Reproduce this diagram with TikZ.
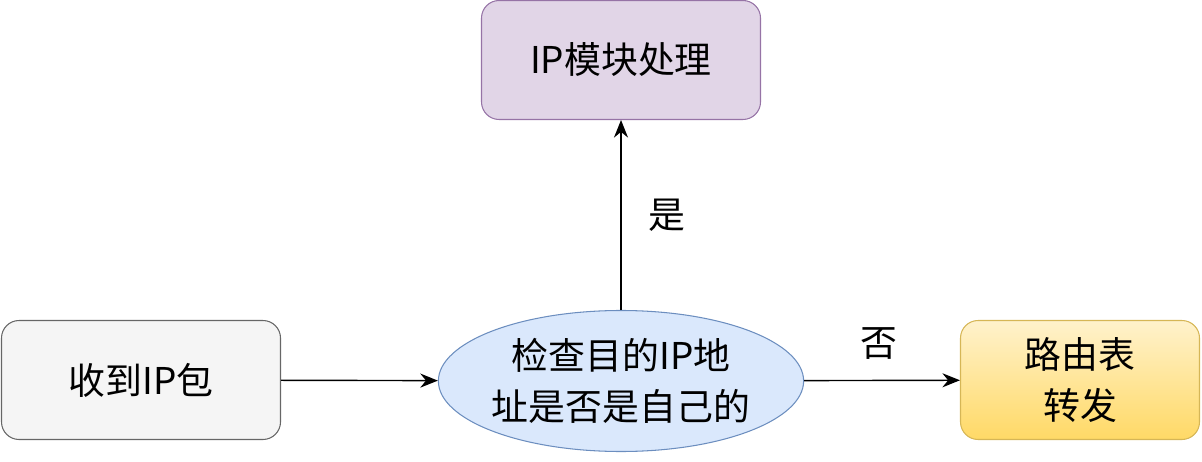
\documentclass[tikz,border=0pt]{standalone}
\usepackage{fontspec}
\setmainfont{Noto Sans CJK SC}
\usetikzlibrary{shapes.geometric,arrows.meta}
\definecolor{grayfill}{HTML}{F5F5F5}
\definecolor{grayline}{HTML}{666666}
\definecolor{bluefill}{HTML}{DAE8FC}
\definecolor{blueline}{HTML}{6C8EBF}
\definecolor{purplefill}{HTML}{E1D5E7}
\definecolor{purpleline}{HTML}{9673A6}
\definecolor{yellowtop}{HTML}{FFF2CC}
\definecolor{yellowbot}{HTML}{FFD966}
\definecolor{yellowline}{HTML}{D6B656}
\newlength{\pgfxx}
\setlength{\pgfxx}{0.02cm}
\tikzset{
  box/.style={draw, semithick, rounded corners=10pt, minimum width=279\pgfxx, minimum height=119\pgfxx, align=center, font=\fontsize{21}{29}\selectfont},
  arr/.style={-{Stealth[length=10pt,width=8pt]}, thick},
  lbl/.style={font=\fontsize{21}{26}\selectfont}
}
\begin{document}
\begin{tikzpicture}[x=0.02cm,y=-0.02cm]
\useasboundingbox (0,0) rectangle (1202,462);
% boxes
\node[box, fill=grayfill, draw=grayline] (recv) at (141,380) {收到IP包};
\node[ellipse, semithick, draw=blueline, fill=bluefill, minimum width=361\pgfxx, minimum height=141\pgfxx, inner sep=0pt, align=center, font=\fontsize{21}{29}\selectfont] (check) at (621,381) {检查目的IP地\\址是否是自己的};
\node[box, fill=purplefill, draw=purpleline] (ipmod) at (621,60) {IP模块处理};
\node[box, minimum width=239\pgfxx, top color=yellowtop, bottom color=yellowbot, draw=yellowline] (route) at (1080,380) {路由表\\转发};
% connectors
\draw[arr] (recv) -- (check);
\draw[arr] (check) -- (ipmod) node[lbl, pos=0.5, right=12pt] {是};
\draw[arr] (check) -- (route) node[lbl, pos=0.5, above=8pt, xshift=-2pt] {否};
\end{tikzpicture}
\end{document}
